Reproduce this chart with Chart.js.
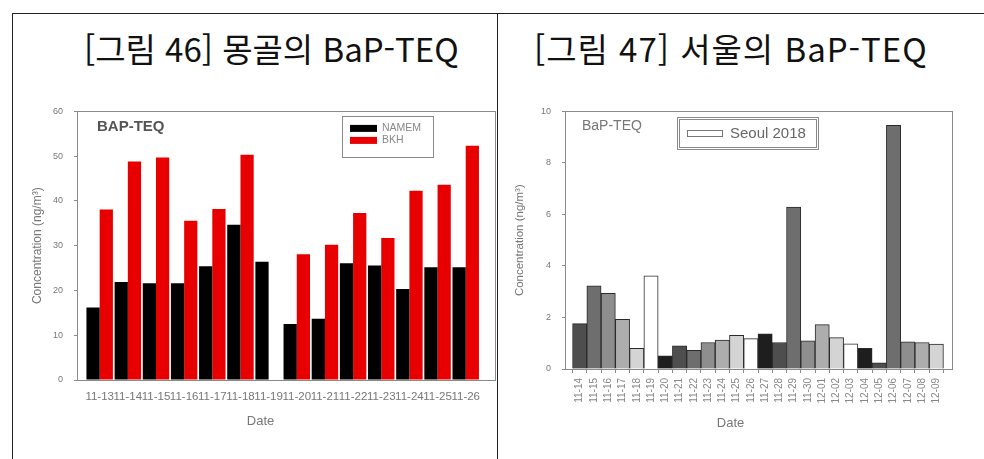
<!DOCTYPE html>
<html lang="ko">
<head>
<meta charset="utf-8">
<title>BaP-TEQ</title>
<script src="https://cdn.jsdelivr.net/npm/chart.js@4.4.1/dist/chart.umd.min.js"></script>
<style>
  html, body { margin: 0; padding: 0; background: #fff; }
  body { position: relative; width: 984px; height: 459px; overflow: hidden; }
  .rule { position: absolute; background: #222; }
  .caption {
    position: absolute; top: 28px; white-space: nowrap;
    font-family: "Noto Sans CJK KR", sans-serif; font-size: 33px; line-height: 40px; color: #111;
  }
  canvas { position: absolute; }
</style>
</head>
<body>
<div class="rule" style="left:12px; top:13px; width:972px; height:1px;"></div>
<div class="rule" style="left:12px; top:13px; width:1px; height:446px;"></div>
<div class="rule" style="left:497px; top:13px; width:1px; height:446px;"></div>

<div class="caption" style="left:84px;">[그림 46] 몽골의 BaP-TEQ</div>
<div class="caption" style="left:534px; letter-spacing:1px;">[그림 47] 서울의 BaP-TEQ</div>

<canvas id="mongolia" width="484" height="364" style="left:13px; top:95px;"></canvas>
<canvas id="seoul" width="485" height="364" style="left:498px; top:95px;"></canvas>

<script>
// 몽골 (NAMEM / BKH), 11월 13일 ~ 26일
const mongoliaDates = ['11-13', '11-14', '11-15', '11-16', '11-17', '11-18', '11-19',
                       '11-20', '11-21', '11-22', '11-23', '11-24', '11-25', '11-26'];
const namemValues = [16.2, 21.9, 21.6, 21.6, 25.4, 34.7, 26.4, 12.5, 13.7, 26.1, 25.6, 20.3, 25.2, 25.2];
const bkhValues   = [38.1, 48.8, 49.7, 35.6, 38.2, 50.3, null, 28.1, 30.2, 37.3, 31.7, 42.3, 43.6, 52.3];
const mongoliaTicks = [0, 10, 20, 30, 40, 50, 60];

// 서울 2018
const seoulDates = ['11-14', '11-15', '11-16', '11-17', '11-18', '11-19', '11-20', '11-21', '11-22',
                    '11-23', '11-24', '11-25', '11-26', '11-27', '11-28', '11-29', '11-30',
                    '12-01', '12-02', '12-03', '12-04', '12-05', '12-06', '12-07', '12-08', '12-09'];
const seoulValues = [1.76, 3.23, 2.94, 1.93, 0.80, 3.62, 0.51, 0.90, 0.72, 1.03, 1.12, 1.31, 1.18,
                     1.37, 1.03, 6.29, 1.09, 1.72, 1.22, 0.98, 0.80, 0.24, 9.46, 1.05, 1.03, 0.97];
const seoulTicks = [0, 2, 4, 6, 8, 10];

// 요일별 회색 단계
const weekShades = ['#1e1e1e', '#4e4e4e', '#6e6e6e', '#8e8e8e', '#adadad', '#d4d4d4', '#ffffff'];

const FONT = '"Liberation Sans", Arial, sans-serif';

// 그래프 테두리, 내부 제목, 범례, Date 축 제목
const panelPlugin = {
    id: 'panel',
    afterDatasetsDraw(chart, args, opts) {
        const ctx = chart.ctx;
        const a = chart.chartArea;
        const yScale = chart.scales.y;
        ctx.save();

        ctx.strokeStyle = '#8a8a8a';
        ctx.lineWidth = 1;
        ctx.strokeRect(Math.round(a.left) - 0.5, Math.round(a.top) + 0.5,
                       Math.round(a.right - a.left) + 1, Math.round(a.bottom - a.top));

        // 내부 제목
        ctx.fillStyle = opts.tagColor;
        ctx.font = opts.tagFont;
        ctx.textBaseline = 'middle';
        ctx.textAlign = 'left';
        ctx.fillText(opts.tag, a.left + opts.tagX, a.top + opts.tagY);

        // 범례
        const lg = opts.legend;
        const bx = a.left + lg.x, by = a.top + lg.y;
        ctx.strokeStyle = '#8a8a8a';
        ctx.strokeRect(Math.round(bx) + 0.5, Math.round(by) + 0.5, lg.w, lg.h);
        if (lg.double) {
            ctx.strokeRect(Math.round(bx) + 2.5, Math.round(by) + 2.5, lg.w - 4, lg.h - 4);
        }
        ctx.font = lg.font;
        chart.data.datasets.forEach((ds, i) => {
            const sy = by + lg.rowY + i * lg.rowGap;
            const fill = lg.swatchFill || ds.backgroundColor;
            ctx.fillStyle = fill;
            ctx.fillRect(bx + lg.swatchX, sy - lg.swatchH / 2, lg.swatchW, lg.swatchH);
            if (lg.swatchFill) {
                ctx.strokeStyle = '#777';
                ctx.strokeRect(Math.round(bx + lg.swatchX) + 0.5, Math.round(sy - lg.swatchH / 2) + 0.5,
                               lg.swatchW, lg.swatchH);
            }
            ctx.fillStyle = lg.color;
            ctx.fillText(ds.label, bx + lg.textX, sy);
        });

        // Date
        ctx.font = opts.dateFont;
        ctx.fillStyle = '#777';
        ctx.textAlign = 'center';
        ctx.fillText('Date', (yScale.left + a.right) / 2, a.bottom + opts.dateY);

        ctx.restore();
    }
};

function yAxis(ticks, max, width, titleSize) {
    return {
        min: 0,
        max: max,
        afterBuildTicks: s => { s.ticks = ticks.map(v => ({ value: v })); },
        afterFit: s => { s.width = width; },
        border: { display: false },
        grid: { drawOnChartArea: false, drawTicks: true, tickLength: 4, color: '#8a8a8a' },
        ticks: { font: { size: 9, family: FONT }, color: '#777', padding: 11 },
        title: {
            display: true,
            text: 'Concentration (ng/m³)',
            font: { size: titleSize, family: FONT },
            color: '#777',
            padding: { top: 4, bottom: 0 }
        }
    };
}

new Chart(document.getElementById('mongolia'), {
    type: 'bar',
    data: {
        datasets: [
            {
                label: 'NAMEM',
                data: namemValues.map((v, i) => ({ x: i, y: v })),
                backgroundColor: '#000000',
                categoryPercentage: 0.94,
                barPercentage: 1
            },
            {
                label: 'BKH',
                data: bkhValues.map((v, i) => ({ x: i, y: v })),
                backgroundColor: '#e80000',
                categoryPercentage: 0.94,
                barPercentage: 1
            }
        ]
    },
    options: {
        responsive: false,
        animation: false,
        layout: { padding: { left: 13, right: 2, top: 16, bottom: 0 } },
        plugins: {
            legend: { display: false },
            tooltip: { enabled: false },
            panel: {
                tag: 'BAP-TEQ', tagFont: 'bold 15px ' + FONT, tagColor: '#555', tagX: 19, tagY: 15,
                legend: {
                    x: 264, y: 5, w: 91, h: 41, font: '10.5px ' + FONT, color: '#888',
                    swatchX: 8, swatchW: 27, swatchH: 7, textX: 40, rowY: 12, rowGap: 12
                },
                dateFont: '13px ' + FONT, dateY: 41
            }
        },
        scales: {
            x: {
                type: 'linear',
                min: -0.77,
                max: 14.04,
                offset: false,
                afterBuildTicks: s => { s.ticks = mongoliaDates.map((d, i) => ({ value: i })); },
                afterFit: s => { s.height = 79; },
                border: { display: false },
                grid: { drawOnChartArea: false, drawTicks: false },
                ticks: {
                    autoSkip: false, maxRotation: 0, minRotation: 0, padding: 10,
                    font: { size: 11.5, family: FONT }, color: '#777',
                    callback: v => mongoliaDates[v]
                }
            },
            y: yAxis(mongoliaTicks, 60, 52, 12)
        }
    },
    plugins: [panelPlugin]
});

new Chart(document.getElementById('seoul'), {
    type: 'bar',
    data: {
        datasets: [
            {
                label: 'Seoul 2018',
                data: seoulValues.map((v, i) => ({ x: i, y: v })),
                backgroundColor: seoulValues.map((v, i) => weekShades[(i + 1) % 7]),
                borderColor: '#2a2a2a',
                borderWidth: 1,
                borderSkipped: 'bottom',
                categoryPercentage: 1,
                barPercentage: 1
            }
        ]
    },
    options: {
        responsive: false,
        animation: false,
        layout: { padding: { left: 11, right: 31, top: 14, bottom: 0 } },
        plugins: {
            legend: { display: false },
            tooltip: { enabled: false },
            panel: {
                tag: 'BaP-TEQ', tagFont: '14px ' + FONT, tagColor: '#777', tagX: 16, tagY: 15,
                legend: {
                    x: 111, y: 6, w: 141, h: 32, font: '15px ' + FONT, color: '#666', double: true,
                    swatchFill: '#ffffff', swatchX: 10, swatchW: 35, swatchH: 6, textX: 53, rowY: 16, rowGap: 0
                },
                dateFont: '13px ' + FONT, dateY: 54
            }
        },
        scales: {
            x: {
                type: 'linear',
                min: -0.96,
                max: 26.1,
                offset: false,
                afterBuildTicks: s => { s.ticks = seoulDates.map((d, i) => ({ value: i })); },
                afterFit: s => { s.height = 90; },
                border: { display: false },
                grid: { drawOnChartArea: false, drawTicks: true, tickLength: 4, color: '#8a8a8a' },
                ticks: {
                    autoSkip: false, maxRotation: 90, minRotation: 90, padding: 5,
                    font: { size: 10, family: FONT }, color: '#888',
                    callback: v => seoulDates[v]
                }
            },
            y: yAxis(seoulTicks, 10, 57, 11.5)
        }
    },
    plugins: [panelPlugin]
});
</script>
</body>
</html>
